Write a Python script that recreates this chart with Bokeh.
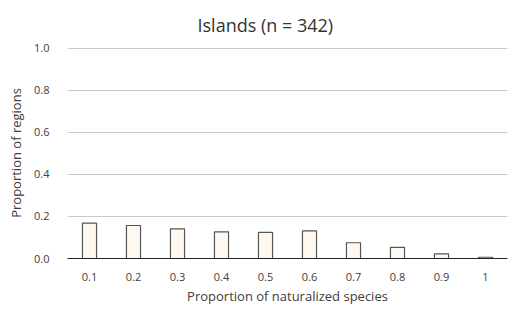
from bokeh.plotting import figure
from bokeh.models import Range1d, FactorRange, NumeralTickFormatter, FixedTicker
from bokeh.embed import file_html
from bokeh.resources import INLINE

categories = ["0.1", "0.2", "0.3", "0.4", "0.5", "0.6", "0.7", "0.8", "0.9", "1"]
values = [0.168, 0.157, 0.141, 0.127, 0.124, 0.131, 0.075, 0.053, 0.022, 0.006]
y_ticks = [0.0, 0.2, 0.4, 0.6, 0.8, 1.0]
title_text = "Islands (n = 342)"

FONT = "Open Sans"

p = figure(width=509, height=308, x_range=FactorRange(*categories, range_padding=0),
           y_range=Range1d(0, 1.004), output_backend="svg", toolbar_location=None,
           min_border_left=67, min_border_right=2, min_border_top=46, min_border_bottom=50)
p.outline_line_color = None

p.vbar(x=categories, top=values, width=0.32, fill_color="#FFF8F0",
       line_color="#555555", line_width=1.2)

p.title.text = title_text
p.title.text_font = FONT
p.title.text_font_size = "18px"
p.title.text_font_style = "normal"
p.title.text_color = "#333333"
p.title.align = "left"
p.title.offset = 130
p.title.standoff = 21

p.yaxis.ticker = FixedTicker(ticks=y_ticks)
p.yaxis.formatter = NumeralTickFormatter(format="0.0")
p.yaxis.axis_line_color = None
p.yaxis.major_tick_line_color = None
p.yaxis.minor_tick_line_color = None
p.yaxis.major_label_standoff = 12
p.yaxis.axis_label_standoff = 6
p.yaxis.axis_label = "Proportion of regions"

p.xaxis.axis_line_color = "#222222"
p.xaxis.axis_line_width = 1.2
p.xaxis.major_tick_line_color = None
p.xaxis.major_label_standoff = 8
p.xaxis.axis_label_standoff = 3
p.xaxis.axis_label = "Proportion of naturalized species"

for ax in (p.xaxis, p.yaxis):
    ax.major_label_text_font = FONT
    ax.major_label_text_font_size = "11px"
    ax.major_label_text_color = "#404040"
    ax.axis_label_text_font = FONT
    ax.axis_label_text_font_size = "13px"
    ax.axis_label_text_font_style = "normal"
    ax.axis_label_text_color = "#404040"

p.xgrid.grid_line_color = None
p.ygrid.grid_line_color = "#C8C8C8"
p.ygrid.grid_line_width = 1

open("out.html", "w").write(file_html(p, INLINE))
